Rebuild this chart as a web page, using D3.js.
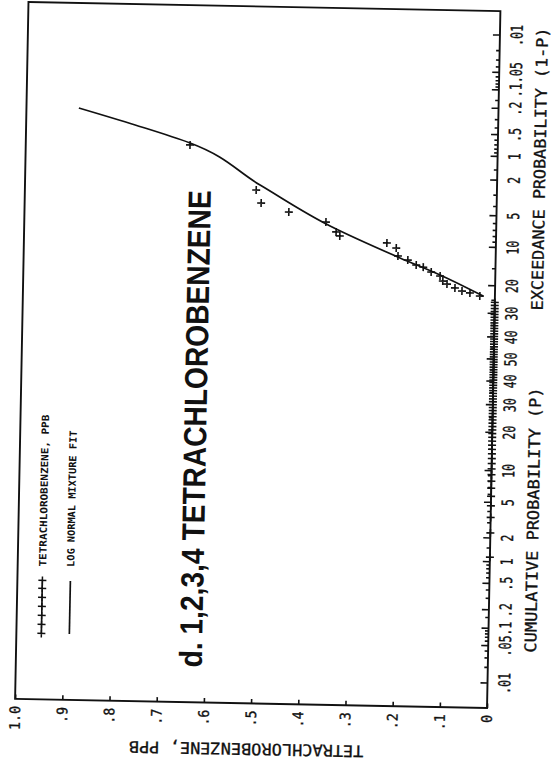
<!DOCTYPE html>
<html>
<head>
<meta charset="utf-8">
<script src="https://cdn.jsdelivr.net/npm/d3@7/dist/d3.min.js"></script>
<style>
  body { margin: 0; background: #fff; }
  svg text { fill: #111; }
</style>
</head>
<body>
<div id="chart"></div>
<script>

// probability axis, cumulative percent (labels flip to 1-P past 50)
var probTicks = [0.01, 0.05, 0.1, 0.2, 0.5, 1, 2, 5, 10, 20, 30, 40, 50,
                 60, 70, 80, 90, 95, 98, 99, 99.5, 99.8, 99.9, 99.95, 99.99];
var probTickLabels = [".01", ".05", ".1", ".2", ".5", "1", "2", "5", "10", "20", "30", "40", "50",
                      "40", "30", "20", "10", "5", "2", "1", ".5", ".2", ".1", ".05", ".01"];
var probMinor = [0.02, 0.03, 0.04, 0.06, 0.07, 0.08, 0.09, 0.15, 0.3, 0.4, 0.6, 0.7, 0.8, 0.9,
                 1.5, 3, 4, 6, 7, 8, 9, 15, 25, 35, 45, 55, 65, 75, 85, 91, 92, 93, 94, 96, 97,
                 98.5, 99.1, 99.2, 99.3, 99.4, 99.6, 99.7, 99.85, 99.91, 99.92, 99.93, 99.94,
                 99.96, 99.97, 99.98];

// concentration axis, ppb
var valueTicks = [0, 0.1, 0.2, 0.3, 0.4, 0.5, 0.6, 0.7, 0.8, 0.9, 1.0];
var valueTickLabels = ["0", ".1", ".2", ".3", ".4", ".5", ".6", ".7", ".8", ".9", "1.0"];

// detected samples (ppb) and their plotted cumulative probability (%)
var detectedValues = [0.652, 0.510, 0.499, 0.440, 0.361, 0.339, 0.331, 0.231, 0.211, 0.207, 0.186,
                      0.168, 0.153, 0.136, 0.117, 0.111, 0.102, 0.085, 0.070, 0.053, 0.032];
var detectedProbs  = [99.17, 97.08, 95.95, 95.03, 93.83, 92.35, 91.68, 90.56, 89.58, 87.84, 86.93,
                      85.7, 85.2, 83.9, 82.8, 81.3, 80.4, 79.2, 78.2, 77.6, 76.6];

// samples at zero, plotted at i/(n+1)
var zeroSamples = [0,0,0,0,0,0,0,0,0,0,0,0,0,0,0,0,0,0,0,0,0,0,0,0,0,0,0,0,0,0,0,0,
                   0,0,0,0,0,0,0,0,0,0,0,0,0,0,0,0,0,0,0,0,0,0,0,0,0,0,0,0,0,0,0,0];
var sampleSize = 85;

// log normal mixture fit
var fitProbs  = [76.6, 83.1, 87.4, 93.28, 97.45, 99.22, 99.551, 99.741];
var fitValues = [0.025, 0.117, 0.2026, 0.352, 0.502, 0.652, 0.769, 0.889];

var svgWidth = 551;
var svgHeight = 769;

// plot area in the upright chart (it is drawn turned a quarter turn)
var width = 697;
var height = 472;

// inverse normal cdf (Acklam)
function probit(p) {
  var a = [-3.969683028665376e+01, 2.209460984245205e+02, -2.759285104469687e+02,
           1.383577518672690e+02, -3.066479806614716e+01, 2.506628277459239e+00];
  var b = [-5.447609879822406e+01, 1.615858368580409e+02, -1.556989798598866e+02,
           6.680131188771972e+01, -1.328068155288572e+01];
  var c = [-7.784894002430293e-03, -3.223964580411365e-01, -2.400758277161838e+00,
           -2.549671180376153e+00, 4.374664141464968e+00, 2.938163982698783e+00];
  var d = [7.784695709041462e-03, 3.224671290700398e-01, 2.445134137142996e+00,
           3.754408661907416e+00];
  var pl = 0.02425, q, r;
  if (p < pl) {
    q = Math.sqrt(-2 * Math.log(p));
    return (((((c[0]*q+c[1])*q+c[2])*q+c[3])*q+c[4])*q+c[5]) / ((((d[0]*q+d[1])*q+d[2])*q+d[3])*q+1);
  }
  if (p <= 1 - pl) {
    q = p - 0.5; r = q * q;
    return (((((a[0]*r+a[1])*r+a[2])*r+a[3])*r+a[4])*r+a[5])*q / (((((b[0]*r+b[1])*r+b[2])*r+b[3])*r+b[4])*r+1);
  }
  q = Math.sqrt(-2 * Math.log(1 - p));
  return -(((((c[0]*q+c[1])*q+c[2])*q+c[3])*q+c[4])*q+c[5]) / ((((d[0]*q+d[1])*q+d[2])*q+d[3])*q+1);
}

var svg = d3.select("#chart")
  .append("svg")
  .attr("width", svgWidth)
  .attr("height", svgHeight);

// the scanned page sits a little crooked
var page = svg.append("g")
  .attr("transform", "rotate(1.1, 257.75, 355)");

var chartGroup = page.append("g")
  .attr("transform", "translate(21.75, 703.5) rotate(-90)");

var xScale = d3.scaleLinear().domain([-4, 4]).range([0, width]);
var yScale = d3.scaleLinear().domain([0, 1]).range([height, 0]);
var px = function(p) { return xScale(probit(p / 100)); };

var ink = "#111";

// frame
chartGroup.append("rect")
  .attr("width", width)
  .attr("height", height)
  .attr("fill", "none")
  .attr("stroke", ink)
  .attr("stroke-width", 1.9);

// probability axis (right side of the page)
var probAxis = chartGroup.append("g")
  .attr("transform", `translate(0, ${height})`)
  .call(d3.axisBottom(d3.scaleIdentity())
    .tickValues(probTicks.map(px))
    .tickSize(-7)
    .tickPadding(11)
    .tickFormat((d, i) => probTickLabels[i]));

chartGroup.append("g")
  .attr("transform", `translate(0, ${height})`)
  .call(d3.axisBottom(d3.scaleIdentity())
    .tickValues(probMinor.map(px))
    .tickSize(-3.5)
    .tickFormat(""))
  .select(".domain").remove();

// value axis (bottom of the page)
var valueAxis = chartGroup.append("g")
  .call(d3.axisLeft(yScale)
    .tickValues(valueTicks)
    .tickSize(-4.5)
    .tickPadding(7)
    .tickFormat((d, i) => valueTickLabels[i]));

chartGroup.selectAll(".domain").remove();
chartGroup.selectAll(".tick line").attr("stroke", ink).attr("stroke-width", 1.6);

probAxis.selectAll("text")
  .attr("font-family", "DejaVu Sans Mono")
  .attr("font-size", 16.5)
  .attr("stroke", ink)
  .attr("stroke-width", 0.35)
  .attr("textLength", function() { return this.textContent.length * 7; })
  .attr("lengthAdjust", "spacingAndGlyphs");

valueAxis.selectAll("text")
  .attr("font-family", "DejaVu Sans Mono")
  .attr("font-size", 14.5)
  .attr("stroke", ink)
  .attr("stroke-width", 0.35)
  .attr("textLength", function() { return this.textContent.length * 8; })
  .attr("lengthAdjust", "spacingAndGlyphs");

// axis titles
function axisTitle(sel) {
  return sel
    .attr("font-family", "DejaVu Sans Mono")
    .attr("font-size", 16)
    .attr("stroke", ink)
    .attr("stroke-width", 0.3)
    .attr("lengthAdjust", "spacingAndGlyphs");
}

chartGroup.append("text")
  .attr("x", px(3.34))
  .attr("y", height + 48)
  .attr("text-anchor", "middle")
  .call(axisTitle)
  .attr("textLength", 26 * 10.2)
  .text("CUMULATIVE PROBABILITY (P)");

chartGroup.append("text")
  .attr("x", px(98.6))
  .attr("y", height + 48)
  .attr("text-anchor", "middle")
  .call(axisTitle)
  .attr("textLength", 28 * 10.1)
  .text("EXCEEDANCE PROBABILITY (1-P)");

chartGroup.append("text")
  .attr("transform", "rotate(-90)")
  .attr("x", -yScale(0.5) + 4)
  .attr("y", -40)
  .attr("text-anchor", "middle")
  .call(axisTitle)
  .attr("textLength", 23 * 10.2)
  .text("TETRACHLOROBENZENE, PPB");

// panel title
chartGroup.append("text")
  .attr("x", 35)
  .attr("y", 186)
  .attr("font-family", "Liberation Sans, Arial, sans-serif")
  .attr("font-weight", 700)
  .attr("font-size", 32)
  .attr("textLength", 477)
  .attr("lengthAdjust", "spacingAndGlyphs")
  .text("d. 1,2,3,4 TETRACHLOROBENZENE");

// legend
var crossPath = "M-4,0H4M0,-4V4";
var legend = chartGroup.append("g");
var legendCrossX = [66, 75, 84, 93, 102, 111, 119];

legend.selectAll("path.legcross")
  .data(legendCrossX)
  .enter()
  .append("path")
  .attr("class", "legcross")
  .attr("d", crossPath)
  .attr("transform", d => `translate(${d}, 25)`)
  .attr("fill", "none")
  .attr("stroke", ink)
  .attr("stroke-width", 1.5);

legend.append("line")
  .attr("x1", 66).attr("x2", 119)
  .attr("y1", 25).attr("y2", 25)
  .attr("stroke", ink)
  .attr("stroke-width", 1.5);

legend.append("line")
  .attr("x1", 66).attr("x2", 119)
  .attr("y1", 53).attr("y2", 53)
  .attr("stroke", ink)
  .attr("stroke-width", 1.7);

legend.append("text")
  .attr("x", 133)
  .attr("y", 28.5)
  .attr("font-family", "DejaVu Sans Mono")
  .attr("font-weight", 700)
  .attr("font-size", 10)
  .attr("textLength", 23 * 6.6)
  .attr("lengthAdjust", "spacingAndGlyphs")
  .text("TETRACHLOROBENZENE, PPB");

legend.append("text")
  .attr("x", 133)
  .attr("y", 56.5)
  .attr("font-family", "DejaVu Sans Mono")
  .attr("font-weight", 700)
  .attr("font-size", 10)
  .attr("textLength", 22 * 6.2)
  .attr("lengthAdjust", "spacingAndGlyphs")
  .text("LOG NORMAL MIXTURE FIT");

// fitted curve
var fitPoints = fitProbs.map((p, i) => [px(p), yScale(fitValues[i])]);
chartGroup.append("path")
  .datum(fitPoints)
  .attr("d", d3.line().curve(d3.curveMonotoneX))
  .attr("fill", "none")
  .attr("stroke", ink)
  .attr("stroke-width", 1.7);

// sample points
var points = zeroSamples.map((v, i) => ({ value: v, prob: 100 * (i + 1) / (sampleSize + 1) }))
  .concat(detectedValues.map((v, i) => ({ value: v, prob: detectedProbs[i] })));

chartGroup.selectAll("path.sample")
  .data(points)
  .enter()
  .append("path")
  .attr("class", "sample")
  .attr("d", crossPath)
  .attr("transform", d => `translate(${px(d.prob)}, ${yScale(d.value)})`)
  .attr("fill", "none")
  .attr("stroke", ink)
  .attr("stroke-width", 1.6);

</script>
</body>
</html>
